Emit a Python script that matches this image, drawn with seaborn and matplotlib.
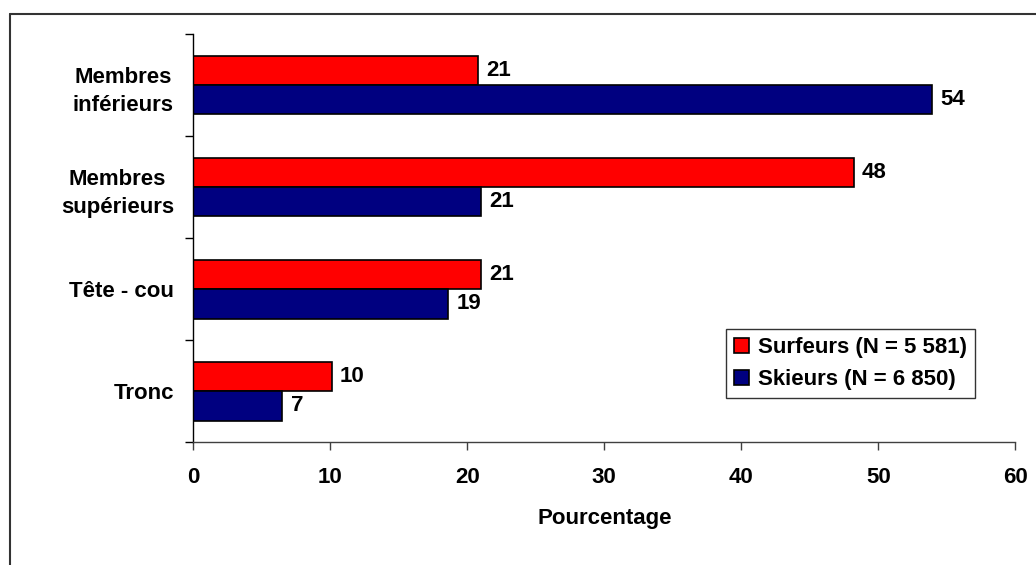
import matplotlib.pyplot as plt
import pandas as pd
import seaborn as sns
from matplotlib.lines import Line2D

# data
categories = ["Membres\ninférieurs", "Membres\nsupérieurs", "Tête - cou", "Tronc"]
surfeurs = [20.8, 48.2, 21.0, 10.1]
skieurs = [53.9, 21.0, 18.6, 6.5]
surfeurs_labels = ["21", "48", "21", "10"]
skieurs_labels = ["54", "21", "19", "7"]
series = ["Surfeurs (N = 5 581)", "Skieurs (N = 6 850)"]
xticks = [0, 10, 20, 30, 40, 50, 60]

df = pd.DataFrame({
    "zone": categories * 2,
    "pct": surfeurs + skieurs,
    "groupe": [series[0]] * 4 + [series[1]] * 4,
})

sns.set_style("white")
plt.rcParams["font.family"] = ["Liberation Sans", "DejaVu Sans"]
plt.rcParams["font.weight"] = "bold"
plt.rcParams["text.color"] = "black"
plt.rcParams["xtick.color"] = "black"
plt.rcParams["ytick.color"] = "black"
plt.rcParams["axes.labelcolor"] = "black"

fig = plt.figure(figsize=(10.36, 5.65), dpi=100)
ax = fig.add_axes([193.3 / 1036, 1 - 442.3 / 565, 822 / 1036, 408.3 / 565])

sns.barplot(data=df, y="zone", x="pct", hue="groupe", hue_order=series,
            palette=["#FF0000", "#000080"], orient="h", width=0.575,
            edgecolor="black", linewidth=1.2, saturation=1, ax=ax)

for cont, labs in zip(ax.containers, [surfeurs_labels, skieurs_labels]):
    ax.bar_label(cont, labels=labs, padding=6, fontsize=16, fontweight="bold")

ax.set_xlim(0, 60)
ax.set_ylim(3.5, -0.5)
ax.set_xticks(xticks)
ax.set_xticklabels([str(t) for t in xticks], fontsize=16, fontweight="bold")
ax.tick_params(axis="x", bottom=True, direction="out", length=6, width=1, pad=12,
               color="#404040")
ax.set_yticks(range(4))
ax.set_yticklabels(categories, fontsize=16, fontweight="bold",
                   multialignment="center", linespacing=1.45)
ax.tick_params(axis="y", which="major", left=True, length=0, pad=14)
ax.set_yticks([-0.5, 0.5, 1.5, 2.5, 3.5], minor=True)
ax.tick_params(axis="y", which="minor", left=True, direction="out", length=6,
               width=1, color="black")
ax.set_xlabel("Pourcentage", fontsize=16, fontweight="bold", labelpad=14)
ax.set_ylabel("")

for s in ["top", "right"]:
    ax.spines[s].set_visible(False)
ax.spines["left"].set_color("black")
ax.spines["bottom"].set_color("#404040")
ax.spines["left"].set_linewidth(1)
ax.spines["bottom"].set_linewidth(1)

leg = ax.legend(loc="lower left", bbox_to_anchor=(0.648, 0.1085), fontsize=16,
                frameon=True, fancybox=False, edgecolor="black",
                handlelength=0.7, handleheight=0.7, handletextpad=0.4,
                borderpad=0.35, labelspacing=0.5, borderaxespad=0)
leg.get_frame().set_linewidth(1)
for t in leg.get_texts():
    t.set_fontweight("bold")

# outer frame of the original chart
fig.add_artist(Line2D([10 / 1036, 10 / 1036], [0, 1 - 14 / 565], color="#333333", lw=1.5))
fig.add_artist(Line2D([10 / 1036, 1], [1 - 14 / 565, 1 - 14 / 565], color="#333333", lw=1.5))

fig.savefig("out.png", dpi=100)
